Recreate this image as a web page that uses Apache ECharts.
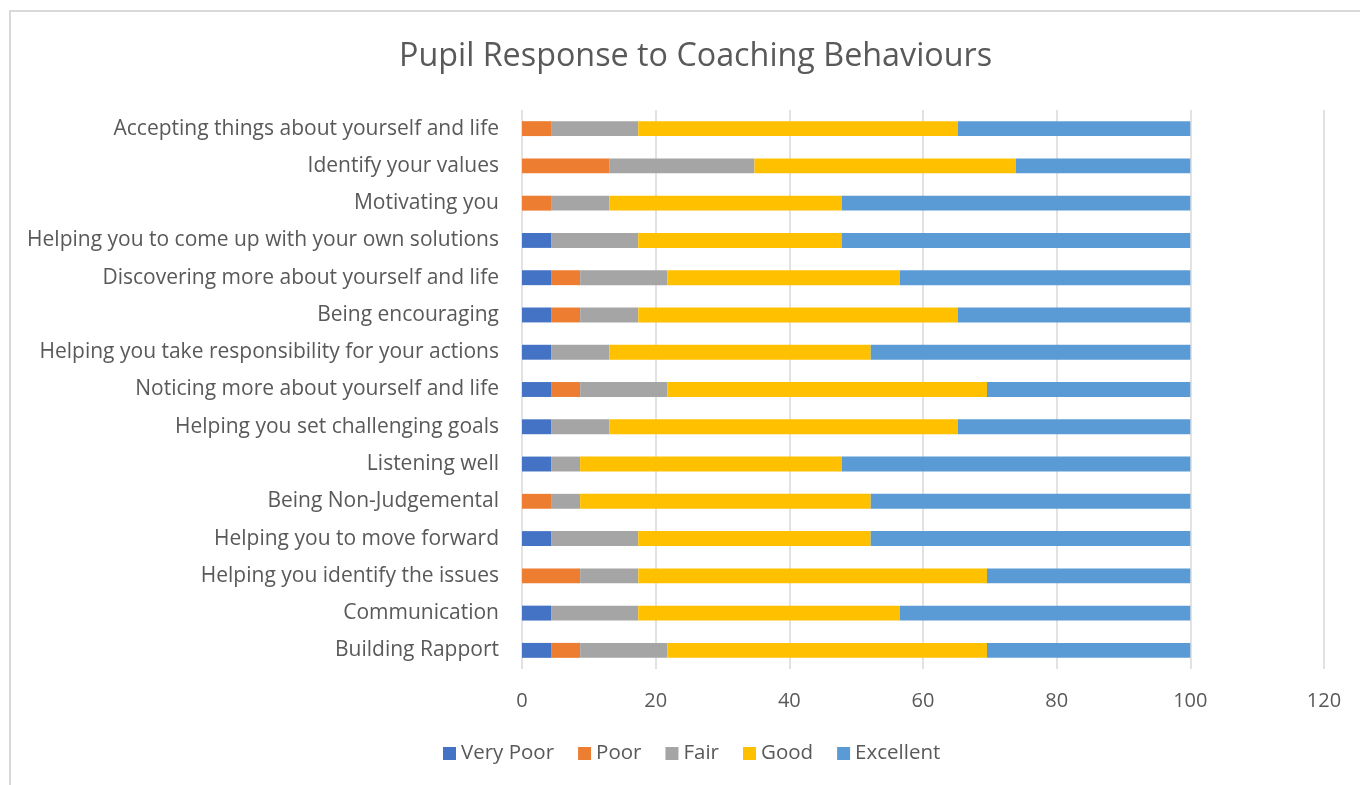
<!DOCTYPE html>
<html>
<head>
<meta charset="utf-8">
<script src="https://cdn.jsdelivr.net/npm/echarts@6/dist/echarts.min.js"></script>
<style>
html,body{margin:0;padding:0;background:#fff;}
#chart{width:1360px;height:785px;}
</style>
</head>
<body>
<div id="chart"></div>
<script>
// Categories bottom-to-top (as ECharts category y axis)
const categories = [
  "Building Rapport",
  "Communication",
  "Helping you identify the issues",
  "Helping you to move forward",
  "Being Non-Judgemental",
  "Listening well",
  "Helping you set challenging goals",
  "Noticing more about yourself and life",
  "Helping you take responsibility for your actions",
  "Being encouraging",
  "Discovering more about yourself and life",
  "Helping you to come up with your own solutions",
  "Motivating you",
  "Identify your values",
  "Accepting things about yourself and life"
];
const veryPoor  = [4.35, 4.35, 0,    4.35, 0,    4.35, 4.35, 4.35, 4.35, 4.35, 4.35, 4.35, 0,     0,     0];
const poor      = [4.35, 0,    8.70, 0,    4.35, 0,    0,    4.35, 0,    4.35, 4.35, 0,    4.35,  13.04, 4.35];
const fair      = [13.04,13.04,8.70, 13.04,4.35, 4.35, 8.70, 13.04,8.70, 8.70, 13.04,13.04,8.70,  21.74, 13.04];
const good      = [47.83,39.13,52.17,34.78,43.48,39.13,52.17,47.83,39.13,47.83,34.78,30.43,34.78, 39.13, 47.83];
const excellent = [30.43,43.48,30.43,47.83,47.83,52.17,34.78,30.43,47.83,34.78,43.48,52.17,52.17, 26.09, 34.78];
const seriesNames = ["Very Poor", "Poor", "Fair", "Good", "Excellent"];
const xTicks = { min: 0, max: 120, interval: 20 };

const colors = ["#4472C4", "#ED7D31", "#A5A5A5", "#FFC000", "#5B9BD5"];
const dataSets = [veryPoor, poor, fair, good, excellent];
const FONT = "Open Sans";
const TXT = "#595959";

const chart = echarts.init(document.getElementById('chart'));
chart.setOption({
  animation: false,
  backgroundColor: '#fff',
  color: colors,
  title: {
    text: "Pupil Response to Coaching Behaviours",
    left: 394,
    top: 36,
    textStyle: { fontFamily: FONT, fontSize: 32.3, fontWeight: 'normal', color: TXT }
  },
  graphic: [{
    type: 'rect',
    shape: { x: 10, y: 11, width: 1400, height: 800 },
    style: { fill: 'none', stroke: '#d9d9d9', lineWidth: 2 },
    silent: true, z: -1
  }],
  legend: {
    data: seriesNames,
    bottom: 16,
    left: 438,
    itemWidth: 13,
    itemHeight: 13,
    itemGap: 24,
    icon: 'rect',
    textStyle: { fontFamily: FONT, fontSize: 20.5, color: TXT }
  },
  grid: { left: 522, right: 36, top: 110, bottom: 116, containLabel: false },
  xAxis: {
    type: 'value',
    min: xTicks.min, max: xTicks.max, interval: xTicks.interval,
    axisLine: { show: false },
    axisTick: { show: false },
    splitLine: { show: true, lineStyle: { color: '#d9d9d9', width: 1.5 } },
    axisLabel: { fontFamily: FONT, fontSize: 20, color: TXT, margin: 22 }
  },
  yAxis: {
    type: 'category',
    data: categories,
    axisLine: { show: false },
    axisTick: { show: false },
    axisLabel: { fontFamily: FONT, fontSize: 21, color: TXT, margin: 23, padding: [4, 0, 0, 0] }
  },
  series: seriesNames.map((n, i) => ({
    name: n,
    type: 'bar',
    stack: 'total',
    barWidth: '40%',
    data: dataSets[i],
    itemStyle: { color: colors[i] }
  }))
});
</script>
</body>
</html>
